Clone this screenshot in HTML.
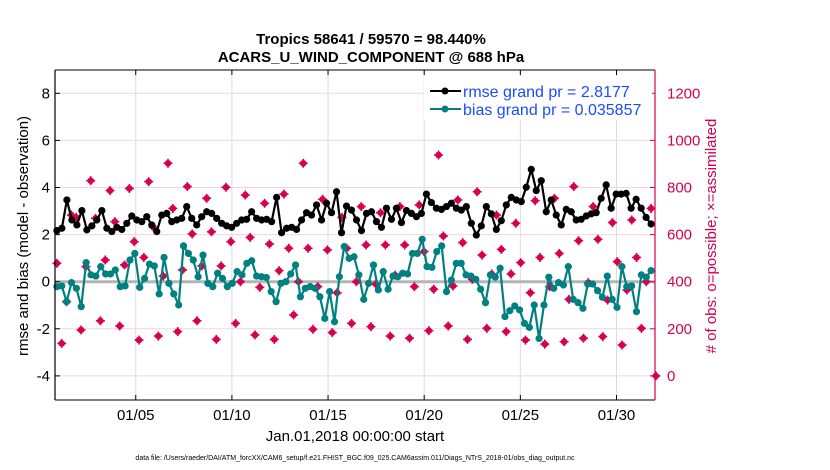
<!DOCTYPE html>
<html><head><meta charset="utf-8"><style>
body{margin:0;background:#fff;}
svg{display:block;font-family:"Liberation Sans",Arial,sans-serif;}
</style></head><body>
<svg id="chart" width="830" height="470" viewBox="0 0 830 470">
<g id="grid"></g>
<line x1="55" y1="281.7" x2="655" y2="281.7" stroke="#b5b5b5" stroke-width="3"/>
<g id="marks"></g>
<g id="axes"></g>
<text x="371" y="44" text-anchor="middle" font-size="15" font-weight="bold">Tropics 58641 / 59570 = 98.440%</text>
<text x="371" y="62" text-anchor="middle" font-size="15" font-weight="bold">ACARS_U_WIND_COMPONENT @ 688 hPa</text>
<text transform="translate(28,236) rotate(-90)" text-anchor="middle" font-size="15">rmse and bias (model - observation)</text>
<text transform="translate(716,236) rotate(-90)" text-anchor="middle" font-size="15" fill="#d0004f"># of obs: o=possible; ×=assimilated</text>
<text x="355" y="441" text-anchor="middle" font-size="15">Jan.01,2018 00:00:00 start</text>
<text x="355" y="460" text-anchor="middle" font-size="7">data file: /Users/raeder/DAI/ATM_forcXX/CAM6_setup/f.e21.FHIST_BGC.f09_025.CAM6assim.011/Diags_NTrS_2018-01/obs_diag_output.nc</text>
<g>
<rect x="424" y="76" width="228" height="44" fill="#fff"/>
<line x1="430" y1="91" x2="461" y2="91" stroke="#000" stroke-width="2"/>
<circle cx="445" cy="91" r="3.5" fill="#000"/>
<text x="463" y="97" font-size="16" fill="#1a4cff">rmse grand pr = 2.8177</text>
<line x1="430" y1="109" x2="461" y2="109" stroke="#008080" stroke-width="2"/>
<circle cx="445" cy="109" r="3.5" fill="#008080"/>
<text x="463" y="115" font-size="16" fill="#1a4cff">bias grand pr = 0.035857</text>
</g>
</svg>
<script>
const rmse=[2.17,2.27,3.47,2.62,2.41,3.02,2.2,2.37,2.62,3.02,2.27,2.13,2.31,2.22,2.48,2.79,2.62,2.55,2.76,2.41,2.13,2.83,2.9,2.55,2.62,2.69,3.19,2.69,2.41,2.76,2.97,2.9,2.69,2.48,2.37,2.31,2.48,2.62,2.65,2.97,2.69,2.62,
2.65,2.55,3.58,2.08,2.27,2.31,2.22,2.62,2.93,2.83,3.26,2.62,3.33,2.93,3.82,2.08,3.21,3.04,2.62,2.17,2.9,2.97,2.55,2.31,3.12,2.65,3.12,2.51,3.02,2.9,2.76,2.9,3.72,3.36,3.12,3.07,3.19,3.33,3.12,3.04,
3.19,2.48,1.98,2.37,3.19,2.88,2.22,2.59,3.26,3.58,3.47,3.4,4.01,4.77,3.87,4.29,2.97,3.47,2.83,2.41,3.07,2.97,2.62,2.65,2.79,2.88,2.93,3.54,4.11,3.12,3.72,3.72,3.75,3.12,3.5,3.12,2.73,2.45];
const bias=[-0.21,-0.18,-0.85,-0.04,-0.28,-1.06,0.81,0.29,0.24,0.64,0.33,0.33,0.5,-0.21,-0.18,0.92,1.2,-0.24,0.14,0.75,0.67,-0.52,1.03,-0.07,-0.52,-0.99,1.52,1.2,0.92,0.21,1.13,-0.07,-0.21,0.36,0.14,-0.21,-0.07,0.43,0.29,0.78,0.89,0.24,0.21,0.18,
-0.42,-0.85,-0.07,0,0.33,0.71,-0.64,-0.28,-0.21,-0.28,-0.64,-1.56,-0.42,-1.7,0.21,1.49,0.99,1.06,0.29,-0.75,-0.07,0.71,-0.35,0.43,-0.32,0.24,0.21,0.36,0.33,1.2,1.2,1.8,0.64,0.61,1.28,1.52,-0.42,0.07,0.78,0.78,
0.29,0.24,0.1,-0.32,-0.89,0.29,0.19,0.57,-1.48,-1.23,-1.03,-1.2,-1.77,-1.94,-0.99,-2.41,-0.99,0.19,-0.28,-0.04,-0.14,0.64,-0.75,-0.89,-1.13,-0.1,-0.1,-0.38,-0.66,0.24,-0.75,-1.09,0.64,-0.21,-0.18,-1.27,0.29,0.19,0.47];
const nobs=[478,138,315,683,673,195,464,829,669,234,492,787,655,212,471,796,570,152,503,825,631,169,424,903,711,188,450,804,603,234,467,754,612,155,467,801,570,223,400,768,588,174,376,733,
560,155,447,772,542,259,400,903,542,198,379,750,535,184,353,673,542,223,400,719,556,209,390,693,556,169,428,719,556,160,379,726,528,192,368,938,594,212,382,747,566,
155,410,782,513,202,433,683,537,188,433,648,481,152,353,744,503,135,379,754,520,145,325,804,574,160,396,719,580,167,322,651,485,131,365,662,503,202,400,711,0];
const xTickLabels=["01/05","01/10","01/15","01/20","01/25","01/30"];
const xTickDays=[4.1,9.1,14.1,19.1,24.1,29.1];
const yTicksLeft=[-4,-2,0,2,4,6,8];
const yTicksRight=[0,200,400,600,800,1000,1200];
const tStart=0, tEnd=30.9, tEndObs=31.15;

const NS="http://www.w3.org/2000/svg";
const L=55,R=655,T=70,B=400;
const xS=t=>56.9+t*19.23;
const yS=v=>281.7-v*23.55;
const yO=n=>yS(n/100-4);
function mk(tag,attrs,parent){const e=document.createElementNS(NS,tag);for(const k in attrs)e.setAttribute(k,attrs[k]);parent.appendChild(e);return e;}
const grid=document.getElementById('grid'),marks=document.getElementById('marks'),axes=document.getElementById('axes');
mk('rect',{x:L,y:T,width:R-L,height:B-T,fill:'#fff'},grid);
xTickDays.forEach((d,i)=>{const l=mk('line',{x1:xS(d),x2:xS(d),y1:T,y2:B,stroke:'#dcdcdc','stroke-width':1},grid);

});
yTicksLeft.forEach(v=>{const l=mk('line',{x1:L,x2:R,y1:yS(v),y2:yS(v),stroke:'#f6d3df','stroke-width':1},grid);

});
// pink obs markers
nobs.forEach((n,i)=>{const t=tStart+i*(tEndObs-tStart)/(nobs.length-1);const cx=xS(t),cy=yO(n);
const g=mk('g',{},marks);


mk('circle',{cx:cx,cy:cy,r:3.3,fill:'#d6004f'},g);
mk('path',{d:`M${cx-4.5} ${cy}H${cx+4.5}M${cx} ${cy-4.5}V${cy+4.5}`,stroke:'#d6004f','stroke-width':1.6},g);});
function series(arr,color,name){
const pts=arr.map((v,i)=>[xS(tStart+i*(tEnd-tStart)/(arr.length-1)),yS(v)]);
const p=mk('polyline',{points:pts.map(p=>p.join(',')).join(' '),fill:'none',stroke:color,'stroke-width':2.2},marks);


pts.forEach(q=>{const c=mk('circle',{cx:q[0],cy:q[1],r:3.6,fill:color},marks);

});}
series(bias,'#008080','bias');
series(rmse,'#000000','rmse');
// axes
mk('line',{x1:L,x2:R,y1:T,y2:T,stroke:'#000','stroke-width':1},axes);
mk('line',{x1:L,x2:R,y1:B,y2:B,stroke:'#000','stroke-width':1},axes);
mk('line',{x1:L,x2:L,y1:T,y2:B,stroke:'#000','stroke-width':1.2},axes);
mk('line',{x1:R,x2:R,y1:T,y2:B,stroke:'#d6004f','stroke-width':1.2},axes);
yTicksLeft.forEach(v=>{mk('line',{x1:L,x2:L+5,y1:yS(v),y2:yS(v),stroke:'#000'},axes);
const t=mk('text',{x:L-5,y:yS(v)+5,'text-anchor':'end','font-size':15},axes);t.textContent=v;

});
yTicksRight.forEach(n=>{mk('line',{x1:R-5,x2:R,y1:yO(n),y2:yO(n),stroke:'#d6004f'},axes);
const t=mk('text',{x:R+12,y:yO(n)+5,'font-size':15,fill:'#d6004f'},axes);t.textContent=n;

});
xTickDays.forEach((d,i)=>{mk('line',{x1:xS(d),x2:xS(d),y1:B-5,y2:B,stroke:'#000'},axes);
mk('line',{x1:xS(d),x2:xS(d),y1:T,y2:T+5,stroke:'#000'},axes);
const t=mk('text',{x:xS(d),y:B+20,'text-anchor':'middle','font-size':15},axes);t.textContent=xTickLabels[i];

});
</script>
</body></html>
